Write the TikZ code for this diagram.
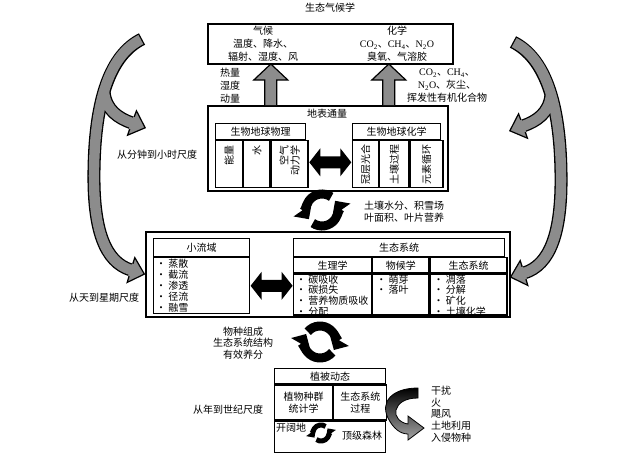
\documentclass[tikz,border=0pt]{standalone}
\usepackage{fontspec}
\setmainfont{Noto Sans CJK SC}
\newfontfamily\latfont{Liberation Serif}
\usetikzlibrary{positioning,arrows.meta,calc}

\newcommand{\chem}[2]{{\latfont #1\textsubscript{#2}}}

% grey forked arrow on the left; mirrored for the right side
\newcommand{\sidearrow}{%
  \draw[band] (142,39) .. controls (110,55) and (95,100) .. (94,170)
    .. controls (93,230) and (105,262) .. (131,270);
  \draw[band] (104,92) .. controls (106,110) and (118,118) .. (132,123);
  \draw[bandfill] (142,39) .. controls (110,55) and (95,100) .. (94,170)
    .. controls (93,230) and (105,262) .. (131,270);
  \draw[bandfill, shorten <=0pt] (104,92) .. controls (106,110) and (118,118) .. (132,123);
  \foreach \hx/\hy/\a in {131/270/-17, 132/123/-20} {
    \begin{scope}[shift={(\hx,\hy)}, rotate=\a]
      \fill[black!45] (-1,-6) -- (0,-13) -- (14,0) -- (0,13) -- (-1,6) -- cycle;
      \draw[line width=1.2pt] (0,-6.5) -- (0,-13) -- (14,0) -- (0,13) -- (0,6.5);
    \end{scope}
  }%
}

\tikzset{
  box/.style={draw, line width=1.6pt, anchor=north west, inner sep=0pt},
  cell/.style={draw, line width=1.2pt, anchor=north west, inner sep=0pt,
    font=\fontsize{10}{11}\selectfont},
  txt/.style={font=\fontsize{10}{13}\selectfont, inner sep=0pt, align=center},
  vtxt/.style={font=\fontsize{10}{11}\selectfont, inner sep=0pt, rotate=90,
    anchor=east, align=right},
  items/.style={font=\fontsize{10}{10.8}\selectfont, inner sep=0pt,
    anchor=north west, align=left},
  band/.style={line width=13pt, black},
  bandfill/.style={line width=10.4pt, black!45, shorten <=1.3pt},
  cyc/.style={line width=9pt, -{Triangle[length=11pt, width=22pt, line width=0pt]}},
  cycs/.style={line width=5pt, -{Triangle[length=6pt, width=12pt, line width=0pt]}},
  dblarr/.pic={\fill (-21,0) -- (-10,-14) -- (-10,-6) -- (10,-6) -- (10,-14)
    -- (21,0) -- (10,14) -- (10,6) -- (-10,6) -- (-10,14) -- cycle;},
  uparr/.pic={\draw[fill=black!45, line width=1.2pt, line join=miter]
    (-6,0) -- (-6,-25) -- (-17,-25) -- (0,-41) -- (17,-25) -- (6,-25) -- (6,0);},
}

\begin{document}
\begin{tikzpicture}[x=1pt, y=-1pt]
\useasboundingbox (0,0) rectangle (631,460);

% Climate
\node[txt] (title) at (330,8) {生态气候学};
\node[box, minimum width=245pt, minimum height=40pt] (clim) at (207,23) {};
\node[txt] (climL) at (263,44) {气候\\温度、降水、\\辐射、湿度、风};
\node[txt] (climR) at (397,44)
  {化学\\\chem{CO}{2}、\chem{CH}{4}、\chem{N}{2}{\latfont O}\\臭氧、气溶胶};

% Surface fluxes
\node[box, minimum width=240pt, minimum height=85pt] (flux) at (207,105) {};
\node[txt] (fluxt) at (327,114) {地表通量};
\node[cell, minimum width=90pt, minimum height=16pt] (bgp) at (215,123) {生物地球物理};
\node[cell, minimum width=27pt, minimum height=47pt] (bgp1) at (bgp.south west) {};
\node[cell, minimum width=26pt, minimum height=47pt] (bgp2) at (bgp1.north east) {};
\node[cell, minimum width=37pt, minimum height=47pt] (bgp3) at (bgp2.north east) {};
\node[cell, minimum width=88pt, minimum height=16pt] (bgc) at (352,123) {生物地球化学};
\node[cell, minimum width=26pt, minimum height=47pt] (bgc1) at (bgc.south west) {};
\node[cell, minimum width=29pt, minimum height=47pt] (bgc2) at (bgc1.north east) {};
\node[cell, minimum width=33pt, minimum height=47pt] (bgc3) at (bgc2.north east) {};
\node[vtxt] at ([yshift=-5pt]bgp1.north) {能量};
\node[vtxt] at ([yshift=-5pt]bgp2.north) {水};
\node[vtxt] at ([yshift=-5pt]bgp3.north) {空气\\动力学};
\node[vtxt] at ([yshift=-4pt]bgc1.north) {冠层光合};
\node[vtxt] at ([yshift=-4pt]bgc2.north) {土壤过程};
\node[vtxt] at ([yshift=-4pt]bgc3.north) {元素循环};
\pic at ($(bgp3.east)!0.5!(bgc1.west)+(0,-2)$) {dblarr};

% fluxes up to climate
\pic at ([xshift=-57pt]flux.north) {uparr};
\pic at ([xshift=61pt]flux.north) {uparr};
\node[txt] (heat) at (230,86) {热量\\湿度\\动量};
\node[txt] (gases) at (447,86)
  {\chem{CO}{2}、\chem{CH}{4}、\\\chem{N}{2}{\latfont O}、灰尘、\\挥发性有机化合物};

% Watershed and ecosystem
\node[box, minimum width=364pt, minimum height=85pt] (lower) at (145,231) {};
\node[cell, minimum width=96pt, minimum height=18pt] (shed) at (153,238) {小流域};
\node[cell, minimum width=96pt, minimum height=56pt] (shedb) at (shed.south west) {};
\node[items] at ([xshift=3pt, yshift=-2pt]shedb.north west)
  {• 蒸散\\• 截流\\• 渗透\\• 径流\\• 融雪};
\node[cell, minimum width=211pt, minimum height=18pt] (eco) at (293,238) {生态系统};
\node[cell, minimum width=78pt, minimum height=15pt] (phys) at (eco.south west) {生理学};
\node[cell, minimum width=56pt, minimum height=15pt] (phen) at (phys.north east) {物候学};
\node[cell, minimum width=77pt, minimum height=15pt] (ecol) at (phen.north east) {生态系统};
\node[cell, minimum width=78pt, minimum height=41pt] (physb) at (phys.south west) {};
\node[cell, minimum width=56pt, minimum height=41pt] (phenb) at (phen.south west) {};
\node[cell, minimum width=77pt, minimum height=41pt] (ecolb) at (ecol.south west) {};
\node[items] at ([xshift=3pt, yshift=-1pt]physb.north west)
  {• 碳吸收\\• 碳损失\\• 营养物质吸收\\• 分配};
\node[items] at ([xshift=4pt, yshift=-1pt]phenb.north west) {• 萌芽\\• 落叶};
\node[items] at ([xshift=4pt, yshift=-1pt]ecolb.north west)
  {• 凋落\\• 分解\\• 矿化\\• 土壤化学};
\pic at ($(shedb.east)!0.5!(shedb.east -| eco.west)$) {dblarr};

% cycles between the levels
\coordinate (cyc1) at (322,210);
\draw[cyc] (cyc1) ++(-55:16) arc[start angle=-55, end angle=-215, radius=16];
\draw[cyc] (cyc1) ++(-235:16) arc[start angle=-235, end angle=-395, radius=16];
\node[txt, anchor=west, align=left, font=\fontsize{10}{12}\selectfont] (soil) at (364,212)
  {土壤水分、积雪场\\叶面积、叶片营养};

\coordinate (cyc2) at (320,342);
\draw[cyc] (cyc2) ++(-320:16) arc[start angle=-320, end angle=-150, radius=16];
\draw[cyc] (cyc2) ++(-140:16) arc[start angle=-140, end angle=30, radius=16];
\node[txt, font=\fontsize{10}{11.5}\selectfont] (species) at (243,343)
  {物种组成\\生态系统结构\\有效养分};

% Vegetation dynamics
\node[cell, line width=1.4pt, minimum width=111pt, minimum height=15pt] (veg) at (274,368) {植被动态};
\node[cell, minimum width=58pt, minimum height=35pt, align=center,
  font=\fontsize{10}{12.5}\selectfont] (demo) at (veg.south west) {植物种群\\统计学};
\node[cell, minimum width=53pt, minimum height=35pt, align=center,
  font=\fontsize{10}{12.5}\selectfont] (proc) at (demo.north east) {生态系统\\过程};
\node[cell, line width=1.4pt, minimum width=111pt, minimum height=31pt] (succ) at (demo.south west) {};
\node[items] (gap) at ([xshift=2pt, yshift=-2pt]succ.north west) {开阔地};
\node[txt] (climax) at (362,436) {顶级森林};
\coordinate (cyc3) at (321,433);
\draw[cycs] (cyc3) ++(-55:8) arc[start angle=-55, end angle=-215, radius=8];
\draw[cycs] (cyc3) ++(-235:8) arc[start angle=-235, end angle=-395, radius=8];

% disturbance
\shade[top color=black, bottom color=black!35, draw=black, line width=0.8pt]
  (418,388) .. controls (392,388) and (380,402) .. (388,418)
  .. controls (393,428) and (400,434) .. (408,434) -- (408,440) -- (424,428)
  -- (408,416) -- (408,424) .. controls (400,423) and (394,416) .. (396,410)
  .. controls (398,403) and (405,398) .. (418,398) -- cycle;
\node[items, font=\fontsize{10}{11.6}\selectfont] (dist) at (431,386)
  {干扰\\火\\飓风\\土地利用\\入侵物种};

% time scales
\sidearrow
\begin{scope}[shift={(655,3)}, xscale=-1]
  \sidearrow
\end{scope}
\node[txt] (min) at (157,155) {从分钟到小时尺度};
\node[txt] (day) at (104,298) {从天到星期尺度};
\node[txt] (year) at (228,410) {从年到世纪尺度};

\end{tikzpicture}
\end{document}
